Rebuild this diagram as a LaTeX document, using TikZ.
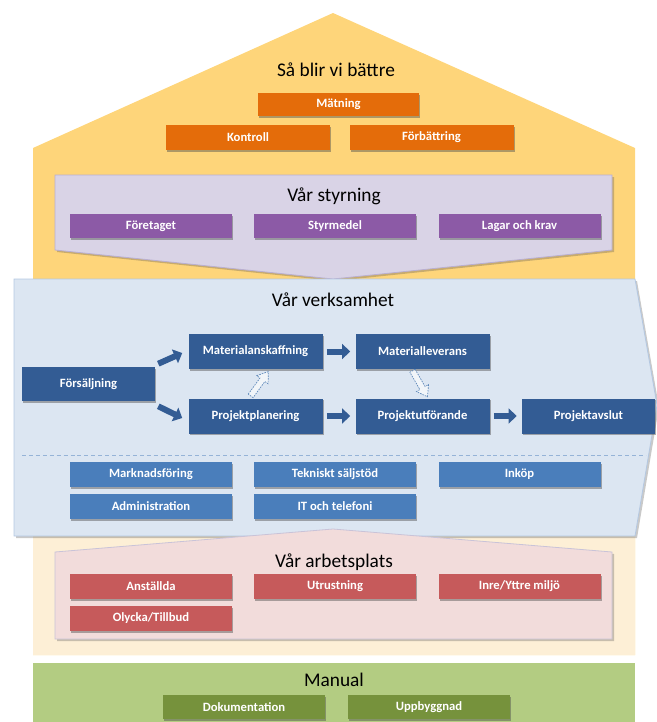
\documentclass[tikz,border=0pt]{standalone}
\usepackage{fontspec}
\setmainfont{Carlito}
\usetikzlibrary{shadows,calc,arrows.meta}
\definecolor{houseY}{HTML}{FED57A}
\definecolor{houseP}{HTML}{FDEFD6}
\definecolor{styrF}{HTML}{D9D3E6}
\definecolor{styrD}{HTML}{B9AFD2}
\definecolor{verkF}{HTML}{DCE6F2}
\definecolor{verkD}{HTML}{B4C8E2}
\definecolor{arbF}{HTML}{F2DCDB}
\definecolor{arbD}{HTML}{C9C3D8}
\definecolor{manG}{HTML}{B3CC82}
\definecolor{orangeB}{HTML}{E46C0A}
\definecolor{purpleB}{HTML}{8C5AA6}
\definecolor{darkB}{HTML}{335C94}
\definecolor{midB}{HTML}{4A7EBB}
\definecolor{redB}{HTML}{C65A5B}
\definecolor{greenB}{HTML}{76923C}
\definecolor{sepB}{HTML}{95B3D7}
\definecolor{hollowD}{HTML}{5B86B8}
\begin{document}
\begin{tikzpicture}[x=0.75pt,y=-0.75pt,
  title/.style={font=\fontsize{14.5}{16}\selectfont, text=black, inner sep=0pt},
  box/.style={text=white, font=\bfseries\fontsize{9.5}{11}\selectfont,
    minimum width=121.5pt, minimum height=18.75pt, inner sep=0pt,
    drop shadow={shadow xshift=1pt, shadow yshift=-1.2pt, opacity=0.45, fill=black!70}},
  obox/.style={box, fill=orangeB},
  pbox/.style={box, fill=purpleB},
  fbox/.style={box, fill=darkB, minimum width=100.5pt, minimum height=26.25pt},
  mbox/.style={box, fill=midB},
  rbox/.style={box, fill=redB},
  gbox/.style={box, fill=greenB, minimum height=18pt},
  bigshadow/.style={drop shadow={shadow xshift=1.5pt, shadow yshift=-1.5pt, opacity=0.3, fill=black!70}},
  flowarrow/.style={draw=darkB, line width=4.5pt, line cap=butt, -{Triangle[length=6pt, width=11pt]}},
  hollow/.style={draw=hollowD, fill=white, fill opacity=0.6, draw opacity=1, line width=0.5pt, dash pattern=on 1.2pt off 0.8pt}
]
\useasboundingbox (0,0) rectangle (657,722);

% house
\fill[houseY] (33,148) -- (333,13) -- (635,148) -- (635,655) -- (33,655) -- cycle;
\fill[houseP] (33,536) rectangle (635,655);

% manual band
\fill[manG] (33,663) rectangle (635,722);

% styrning
\draw[fill=styrF, draw=styrD, line width=0.6pt, bigshadow] (55,175) -- (612,175) -- (612,250) -- (333,279) -- (55,250) -- cycle;

% verksamhet
\draw[fill=verkF, draw=verkD, line width=0.6pt, bigshadow] (14,279) -- (635,279) -- (657,405) -- (635,536) -- (14,536) -- cycle;

% arbetsplats
\draw[fill=arbF, draw=arbD, line width=0.6pt, bigshadow] (55,552) -- (333,529) -- (612,552) -- (612,639) -- (55,639) -- cycle;

% titles
\node[title] (t1) at (336,70) {Så blir vi bättre};
\node[title] (t2) at (334,196) {Vår styrning};
\node[title] (t3) at (333,300) {Vår verksamhet};
\node[title] (t4) at (334,562) {Vår arbetsplats};
\node[title] (t5) at (334,680) {Manual};

% orange
\node[obox, minimum width=120.75pt, minimum height=17.25pt] (mat) at (338.5,104.5) {Mätning};
\node[obox, minimum width=123pt] (kon) at (248,137.5) {Kontroll};
\node[obox, minimum width=123pt] (forb) at (431.5,137.5) {Förbättring};

% purple
\node[pbox, minimum height=18pt] (ft) at (151,226) {Företaget};
\node[pbox, minimum height=18pt] (sm) at (335,226) {Styrmedel};
\node[pbox, minimum height=18pt] (lk) at (519.5,226) {Lagar och krav};

% flow
\node[fbox, minimum width=99.75pt, minimum height=25.5pt] (fs) at (88.5,384) {Försäljning};
\node[fbox] (ma) at (255.5,351.5) {Materialanskaffning};
\node[fbox] (ml) at (422.5,351.5) {Materialleverans};
\node[fbox] (pp) at (255.5,416) {Projektplanering};
\node[fbox] (pu) at (422.5,416) {Projektutförande};
\node[fbox, minimum width=99.75pt] (pa) at (588.5,416) {Projektavslut};

\draw[flowarrow] ($(fs.north east)+(3,-3)$) -- ($(ma.west)+(-6,1.5)$);
\draw[flowarrow] ($(fs.south east)+(3,5)$) -- ($(pp.west)+(-6,2)$);
\draw[flowarrow] ($(ma.east)+(4,0)$) -- ($(ml.west)+(-5,0)$);
\draw[flowarrow] ($(pp.east)+(4,0)$) -- ($(pu.west)+(-5,0)$);
\draw[flowarrow] ($(pu.east)+(4,0)$) -- ($(pa.west)+(-5,0)$);

% hollow arrows
\begin{scope}[shift={($(pp.north)!0.5!(ma.south)+(4,0)$)}, rotate=54]
  \draw[hollow] (-15,-3) -- (5,-3) -- (5,-7) -- (15,0) -- (5,7) -- (5,3) -- (-15,3) -- cycle;
\end{scope}
\begin{scope}[shift={($(ml.south)!0.5!(pu.north)+(-2.5,0)$)}, rotate=-60]
  \draw[hollow] (-15,-3) -- (5,-3) -- (5,-7) -- (15,0) -- (5,7) -- (5,3) -- (-15,3) -- cycle;
\end{scope}

% separator
\coordinate (sepL) at (22,455);
\coordinate (sepR) at (646,455);
\draw[sepB, line width=0.6pt, dash pattern=on 3pt off 2.2pt] (sepL) -- (sepR);

% medium blue
\node[mbox] (mf) at (151,474.5) {Marknadsföring};
\node[mbox] (ts) at (335,474.5) {Tekniskt säljstöd};
\node[mbox] (ik) at (519.5,474.5) {Inköp};
\node[mbox] (ad) at (151,506.5) {Administration};
\node[mbox] (it) at (335,506.5) {IT och telefoni};

% red
\node[rbox] (an) at (151,586.5) {Anställda};
\node[rbox] (ut) at (335,586.5) {Utrustning};
\node[rbox] (im) at (519.5,586.5) {Inre/Yttre miljö};
\node[rbox] (ot) at (151,618.5) {Olycka/Tillbud};

% green
\node[gbox] (dok) at (244,707) {Dokumentation};
\node[gbox] (upp) at (429,707) {Uppbyggnad};
\end{tikzpicture}
\end{document}
